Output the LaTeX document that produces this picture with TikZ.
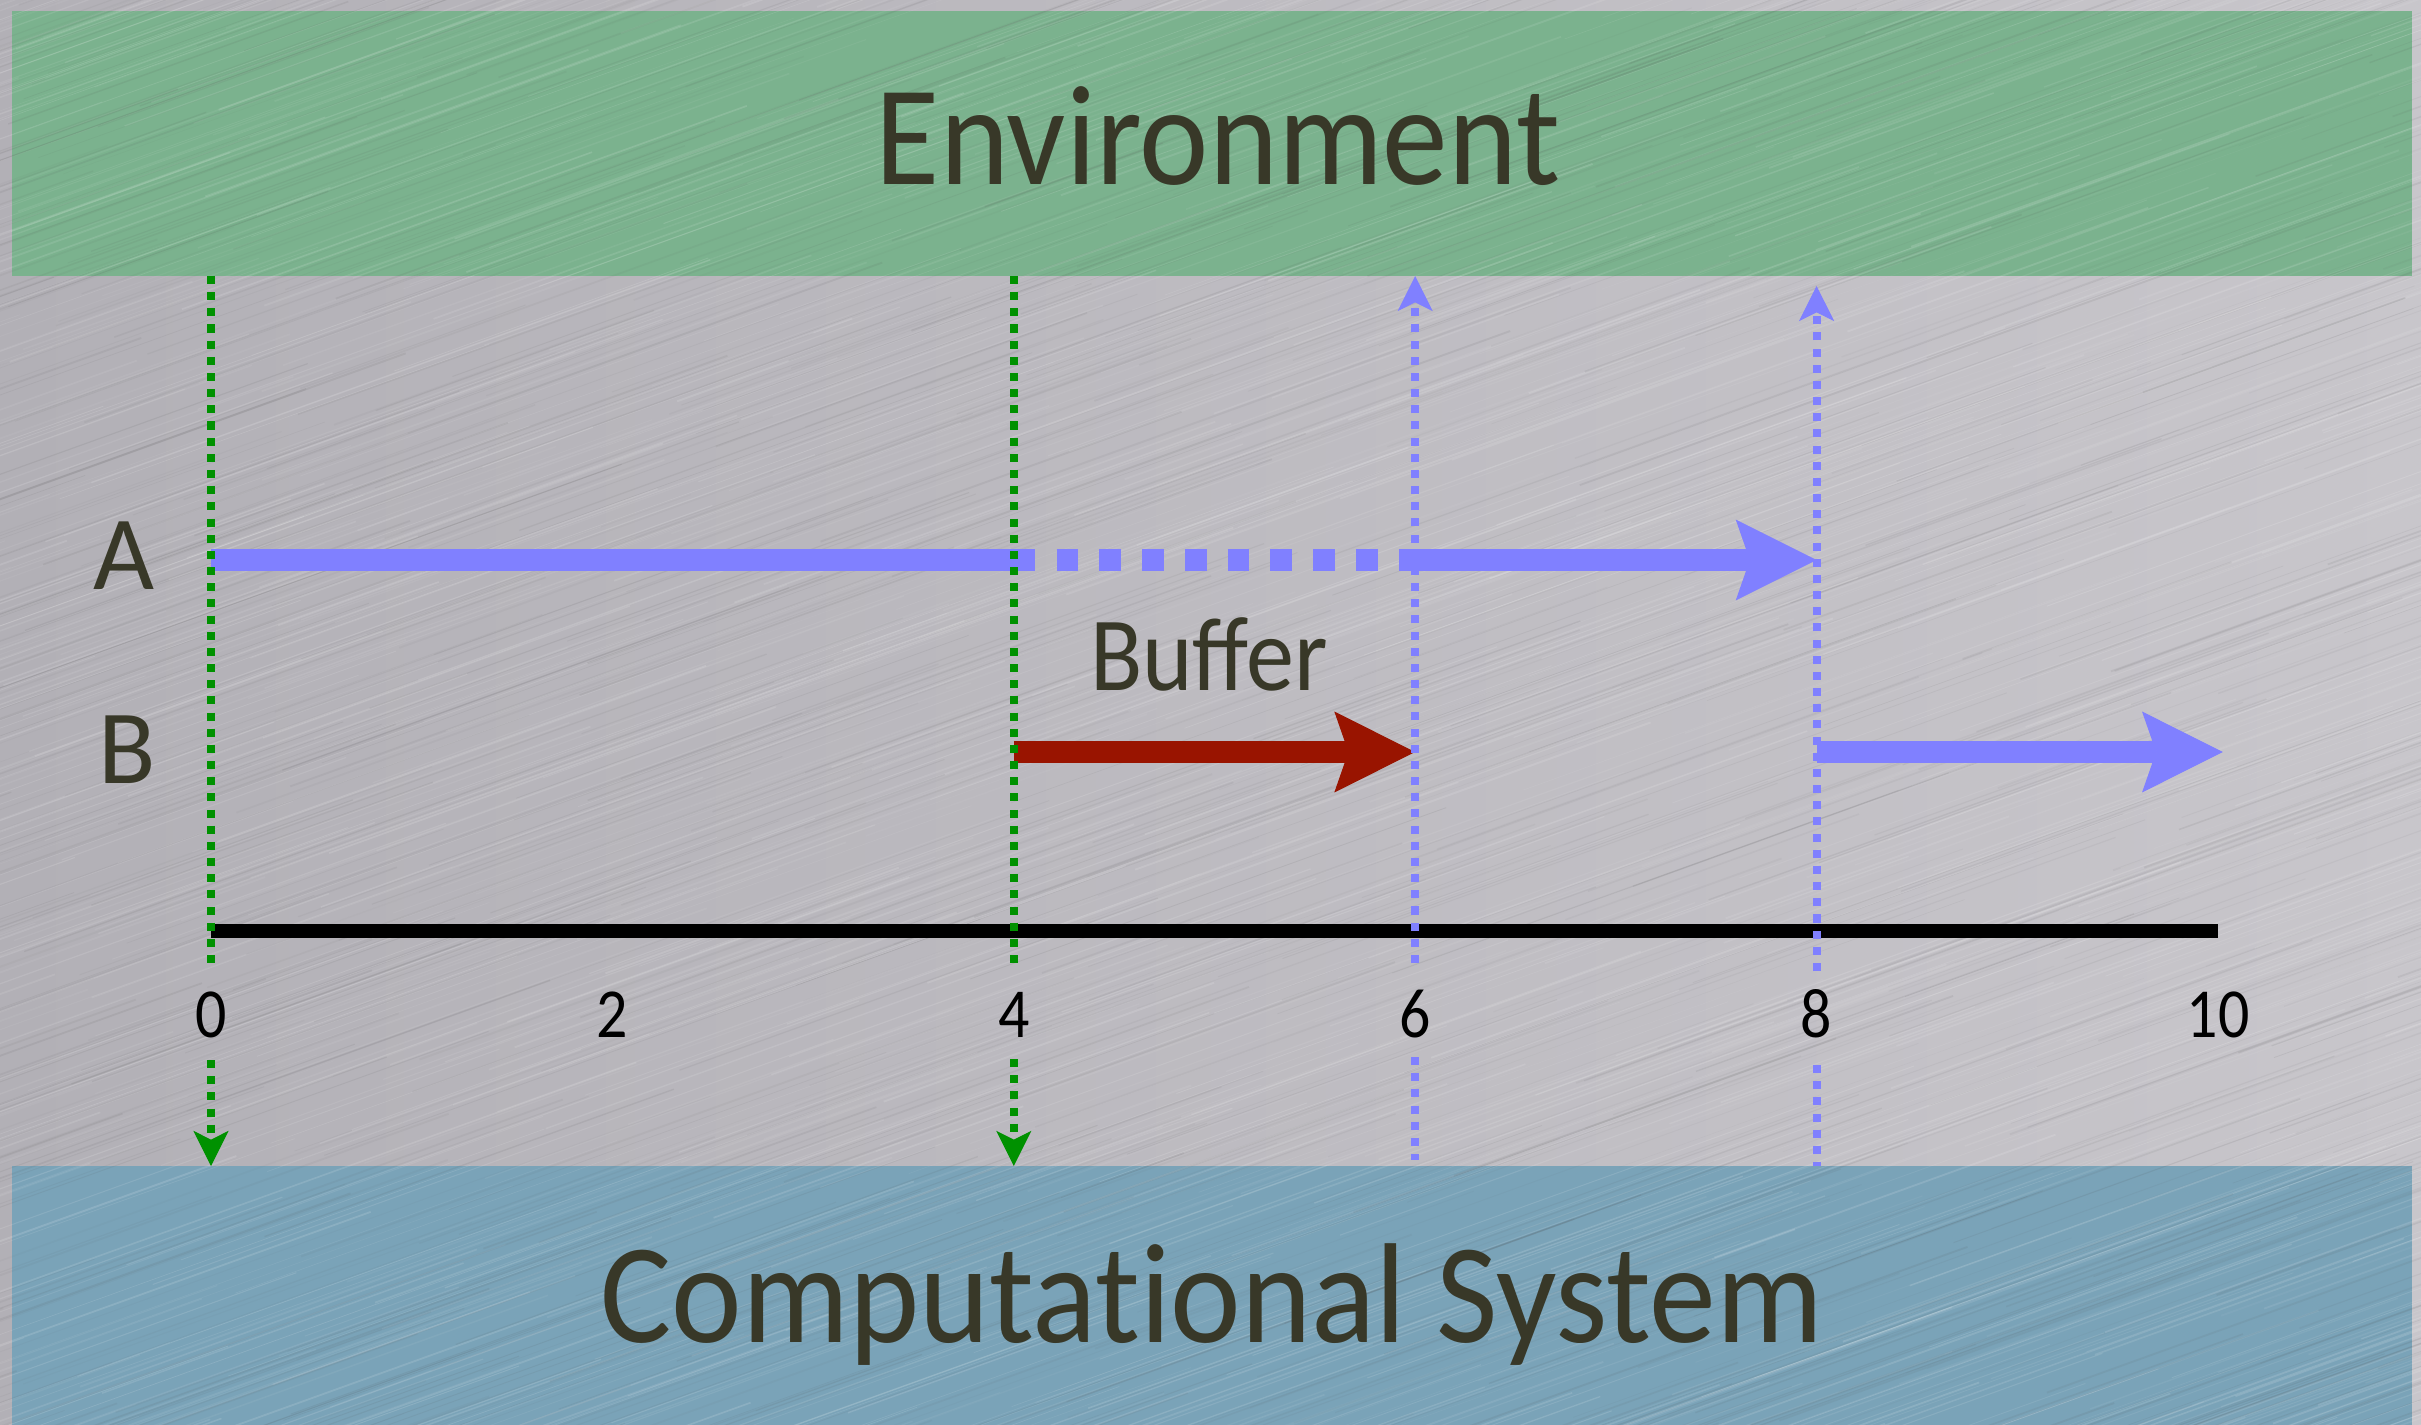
\documentclass[tikz,border=0pt]{standalone}
\usepackage{fontspec}
\setmainfont{Carlito}
\usetikzlibrary{arrows.meta}

\definecolor{metalL}{RGB}{178,176,182}
\definecolor{metalR}{RGB}{200,198,203}
\definecolor{envgreen}{RGB}{123,178,142}
\definecolor{sysblue}{RGB}{122,163,184}
\definecolor{ink}{RGB}{56,56,40}
\definecolor{flow}{RGB}{128,128,255}
\definecolor{bufred}{RGB}{153,20,0}
\definecolor{sig}{RGB}{0,145,0}

\begin{document}
\begin{tikzpicture}[x=0.1mm,y=-0.1mm,
  band/.style={inner sep=0pt, outer sep=0pt, anchor=north west, minimum width=240mm},
  word/.style={text=ink, inner sep=0pt, anchor=base},
  numlabel/.style={text=black, inner sep=0pt, anchor=base, font=\fontsize{20}{24}\selectfont},
  flowline/.style={line width=6pt},
  bighead/.style={-{Stealth[length=23pt,width=23pt,inset=4pt,line width=0.3pt]}},
  sigline/.style={line width=2.3pt, dash pattern=on 2.3pt off 2.3pt},
  smallhead/.style={-{Stealth[length=10pt,width=10pt,inset=2.5pt,line width=0.3pt]}},
]
\useasboundingbox (0,0) rectangle (2421,1425);

% brushed-metal backdrop
\shade[left color=metalL, right color=metalR] (0,0) rectangle (2421,1425);

% the two bands
\node[band, fill=envgreen, minimum height=26.5mm] (env) at (12,11) {};
\node[band, fill=sysblue, minimum height=25.9mm] (comp) at (12,1166) {};

% fine diagonal brushing streaks
\pgfmathsetseed{4242}
\begin{scope}
  \clip (0,0) rectangle (2421,1425);
  \foreach \k in {1,...,1400}{
    \pgfmathsetmacro{\sx}{-600+3000*rnd}
    \pgfmathsetmacro{\sy}{2100*rnd}
    \pgfmathsetmacro{\sl}{250+700*rnd}
    \pgfmathsetmacro{\sw}{0.15+0.4*rnd}
    \pgfmathsetmacro{\so}{0.04+0.10*rnd}
    \draw[white, line width=\sw pt, opacity=\so] (\sx,\sy) -- ++(\sl,-0.36*\sl);
  }
  \foreach \k in {1,...,1000}{
    \pgfmathsetmacro{\sx}{-600+3000*rnd}
    \pgfmathsetmacro{\sy}{2100*rnd}
    \pgfmathsetmacro{\sl}{250+700*rnd}
    \pgfmathsetmacro{\sw}{0.15+0.4*rnd}
    \pgfmathsetmacro{\so}{0.03+0.07*rnd}
    \draw[black!70, line width=\sw pt, opacity=\so] (\sx,\sy) -- ++(\sl,-0.36*\sl);
  }
\end{scope}

% titles
\node[word, font=\fontsize{40.5}{48}\selectfont] (envtext) at (1218,185)
  {\resizebox{68.4mm}{\height}{Environment}};
\node[word, font=\fontsize{40.5}{48}\selectfont] (comptext) at (1212,1342)
  {\resizebox{122.3mm}{\height}{Computat\kern0pt ional System}};

% time axis and its labels
\foreach \k in {0,2,4,6,8,10}{
  \coordinate (t\k) at ({211+200.7*\k},931);
  \node[numlabel] (n\k) at ({211+200.7*\k},1037) {\scalebox{0.88}[1]{\k}};
}
\draw[line width=4pt] (t0) -- (t10);

% row labels
\node[word, font=\fontsize{30}{36}\selectfont] (labA) at (124,590) {A};
\node[word, font=\fontsize{30}{36}\selectfont] (labB) at (127,783) {B};
\node[word, font=\fontsize{30}{36}\selectfont] (buf) at (1209,690)
  {\resizebox{23.8mm}{\height}{Buffer}};

% row anchor points
\coordinate (a0) at (t0 |- 0,560);
\coordinate (a4) at (t4 |- 0,560);
\coordinate (a6) at (t6 |- 0,560);
\coordinate (a8) at (t8 |- 0,560);
\coordinate (b4) at (t4 |- 0,752);
\coordinate (b6) at (t6 |- 0,752);
\coordinate (b8) at (t8 |- 0,752);
\coordinate (b10) at ([xshift=1.4pt]t10 |- 0,752);

% task A: runs, waits, resumes
\draw[flowline, flow] (a0) -- (a4);
\draw[flowline, flow, dash pattern=on 6.17pt off 6pt] (a4) -- (a6);
\draw[flowline, flow, bighead] (a6) -- (a8);

% task B: buffered, then runs
\draw[flowline, bufred, bighead] (b4) -- (b6);
\draw[flowline, flow, bighead] (b8) -- (b10);

% input events from the environment
\coordinate (g0a) at (t0 |- 0,969);
\coordinate (g0b) at (t0 |- 0,1060);
\coordinate (g4a) at (t4 |- 0,969);
\coordinate (g4b) at (t4 |- 0,1059);
\draw[sigline, sig] (env.south -| t0) -- (g0a);
\draw[sigline, sig, smallhead] (g0b) -- (comp.north -| t0);
\draw[sigline, sig] (env.south -| t4) -- (g4a);
\draw[sigline, sig, smallhead] (g4b) -- (comp.north -| t4);

% outputs back to the environment
\coordinate (u6a) at (t6 |- 0,963);
\coordinate (u6b) at (t6 |- 0,1057);
\coordinate (u6c) at (t6 |- 0,1160);
\coordinate (u8a) at (t8 |- 0,971);
\coordinate (u8b) at (t8 |- 0,1065);
\coordinate (u8top) at (t8 |- 0,286);
\draw[sigline, flow, smallhead] (u6a) -- (env.south -| t6);
\draw[sigline, flow] (u6b) -- (u6c);
\draw[sigline, flow, smallhead] (u8a) -- (u8top);
\draw[sigline, flow] (u8b) -- (comp.north -| t8);
\end{tikzpicture}
\end{document}
